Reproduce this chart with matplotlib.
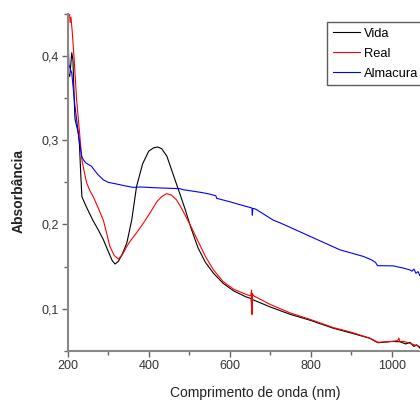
import matplotlib
matplotlib.use("Agg")
import matplotlib.pyplot as plt
from matplotlib.ticker import MultipleLocator, FuncFormatter

# wavelength (nm) / absorbance
vida_wl = [200, 203, 205, 208, 210, 213, 216, 218, 222, 226, 229, 232, 235, 245, 262, 275, 288,
           300, 310, 317, 325, 335, 346, 358, 370, 385, 400, 412, 422, 432, 445, 465, 478,
           490, 505, 522, 540, 560, 584, 610, 640, 653, 654, 655, 660, 700, 749, 800, 856,
           900, 946, 960, 967, 980, 1000, 1020, 1035, 1045, 1055, 1062, 1070]
vida_abs = [0.372, 0.378, 0.376, 0.392, 0.404, 0.395, 0.350, 0.325, 0.317, 0.309, 0.295, 0.262, 0.233,
            0.222, 0.205, 0.194, 0.182, 0.168, 0.157, 0.153, 0.156, 0.165, 0.178, 0.205, 0.245,
            0.272, 0.287, 0.291, 0.292, 0.290, 0.281, 0.253, 0.235, 0.218, 0.195, 0.172, 0.155,
            0.142, 0.130, 0.121, 0.114, 0.112, 0.103, 0.111, 0.110, 0.102, 0.0933, 0.086,
            0.0767, 0.071, 0.0648, 0.061, 0.0595, 0.060, 0.061, 0.0607, 0.058, 0.060, 0.055,
            0.057, 0.053]

real_wl = [200, 202, 204, 206, 208, 211, 216, 222, 230, 235, 241, 247, 255, 263, 275, 288, 296,
           304, 315, 325, 335, 345, 354, 370, 387, 405, 420, 432, 444, 456, 469, 480, 490, 505,
           522, 540, 560, 584, 610, 640, 652, 654, 655, 656, 658, 660, 700, 749, 800, 856, 900,
           946, 960, 967, 980, 1000, 1015, 1018, 1020, 1030, 1050, 1070]
real_abs = [0.416, 0.455, 0.455, 0.440, 0.446, 0.430, 0.396, 0.348, 0.305, 0.277, 0.262, 0.249,
            0.240, 0.233, 0.220, 0.205, 0.190, 0.174, 0.163, 0.159, 0.164, 0.173, 0.180, 0.190,
            0.2017, 0.215, 0.227, 0.233, 0.2366, 0.235, 0.229, 0.220, 0.211, 0.197, 0.180, 0.162,
            0.146, 0.132, 0.123, 0.117, 0.115, 0.122, 0.093, 0.118, 0.116, 0.115, 0.105, 0.095,
            0.087, 0.0775, 0.072, 0.065, 0.0615, 0.060, 0.0605, 0.061, 0.062, 0.065, 0.061,
            0.061, 0.058, 0.055]

alma_wl = [200, 201, 203, 206, 210, 214, 218, 222, 226, 230, 235, 240, 245, 252, 259, 265, 275,
           288, 300, 321, 340, 362, 379, 420, 477, 485, 530, 551, 566, 568, 600, 625, 655, 656,
           657, 659, 665, 708, 724, 790, 872, 930, 950, 960, 965, 1004, 1030, 1045, 1050, 1055,
           1060, 1065, 1070]
alma_abs = [0.400, 0.420, 0.390, 0.385, 0.380, 0.360, 0.340, 0.325, 0.309, 0.295, 0.280, 0.276,
            0.273, 0.271, 0.269, 0.265, 0.259, 0.253, 0.250, 0.248, 0.246, 0.244, 0.2445, 0.2435,
            0.2425, 0.2413, 0.238, 0.236, 0.234, 0.231, 0.227, 0.2235, 0.2195, 0.211, 0.219,
            0.219, 0.218, 0.205, 0.202, 0.1877, 0.1699, 0.162, 0.158, 0.155, 0.151, 0.1508,
            0.148, 0.146, 0.1445, 0.147, 0.142, 0.144, 0.139]

labels = ["Vida", "Real", "Almacura"]
colors = ["black", "red", "blue"]

plt.rcParams["font.family"] = ["Liberation Sans", "DejaVu Sans"]

fig = plt.figure(figsize=(4.2, 4.01), dpi=100)
ax = fig.add_axes([0.1612, 0.1254, 0.8388, 0.8397])

for wl, ab, lab, c in zip([vida_wl, real_wl, alma_wl], [vida_abs, real_abs, alma_abs], labels, colors):
    ax.plot(wl, ab, color=c, lw=0.8, label=lab)

ax.set_xlim(200, 1070)
ax.set_ylim(0.05, 0.45)
ax.xaxis.set_major_locator(MultipleLocator(200))
ax.xaxis.set_minor_locator(MultipleLocator(100))
ax.yaxis.set_major_locator(MultipleLocator(0.1))
ax.yaxis.set_minor_locator(MultipleLocator(0.05))
ax.yaxis.set_major_formatter(FuncFormatter(lambda v, p: f"{v:.1f}".replace(".", ",")))

for s in ["top", "right"]:
    ax.spines[s].set_visible(False)
for s in ["left", "bottom"]:
    ax.spines[s].set_color("#888888")
    ax.spines[s].set_linewidth(1.5)
ax.tick_params(which="major", direction="out", length=4.5, width=1, color="#666666",
               labelsize=9, labelcolor="#333333", pad=2)
ax.tick_params(which="minor", direction="out", length=3, width=1, color="#666666")

ax.set_xlabel("Comprimento de onda (nm)", fontsize=10, color="#222222")
ax.set_ylabel("Absorbância", fontsize=10, fontweight="bold", color="#222222")
ax.xaxis.set_label_coords(0.532, -0.105)
ax.yaxis.set_label_coords(-0.118, 0.474)

leg = ax.legend(loc="upper left", bbox_to_anchor=(0.737, 0.975), fontsize=9.3, frameon=True,
                fancybox=False, borderaxespad=0, borderpad=0.4, handlelength=2.1,
                handletextpad=0.3, labelspacing=0.62)
leg.get_frame().set_edgecolor("#333333")
leg.get_frame().set_linewidth(1.0)

fig.savefig("out.png", dpi=100)
